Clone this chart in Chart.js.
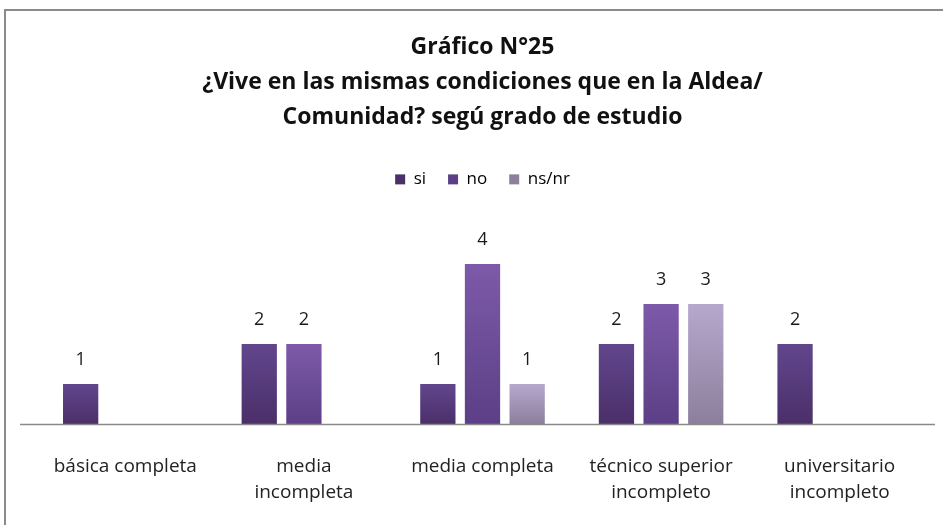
<!DOCTYPE html>
<html>
<head>
<meta charset="utf-8">
<script src="https://cdn.jsdelivr.net/npm/chart.js@4/dist/chart.umd.min.js"></script>
<style>
  html, body { margin: 0; padding: 0; background: #fff; }
  #wrap { position: relative; width: 943px; height: 525px; overflow: hidden; }
  #frame { position: absolute; left: 4px; top: 9px; width: 960px; height: 540px; border: 2px solid #8a8a8a; box-sizing: border-box; }
  canvas { position: absolute; left: 0; top: 0; }
</style>
</head>
<body>
<div id="wrap">
  <div id="frame"></div>
  <canvas class="my_chart" width="943" height="525"></canvas>
</div>
<script>
const categories = [
    'básica completa',
    ['media', 'incompleta'],
    'media completa',
    ['técnico superior', 'incompleto'],
    ['universitario', 'incompleto']
];
const siValues = [1, 2, 1, 2, 2];
const noValues = [null, 2, 4, 3, null];
const nsValues = [null, null, 1, 3, null];
const titleLines = ['Gráfico N°25', '¿Vive en las mismas condiciones que en la Aldea/', 'Comunidad? segú grado de estudio'];

// top / bottom colours for each series
const seriesColors = [
    ['#62468d', '#4a2f69'],
    ['#7d5aa9', '#5c3f86'],
    ['#b6a8cd', '#8c7f9c']
];

function barGradient(i) {
    return function(context) {
        const chart = context.chart;
        const y = chart.scales.y;
        if (!y || context.parsed == null || context.parsed.y == null) return seriesColors[i][0];
        const top = y.getPixelForValue(context.parsed.y);
        const bottom = y.getPixelForValue(0);
        if (!isFinite(top) || !isFinite(bottom) || top === bottom) return seriesColors[i][0];
        const g = chart.ctx.createLinearGradient(0, top, 0, bottom);
        g.addColorStop(0, seriesColors[i][0]);
        g.addColorStop(1, seriesColors[i][1]);
        return g;
    };
}

// numbers above the bars + longer axis line
const valueLabels = {
    id: 'valueLabels',
    afterDatasetsDraw(chart) {
        const ctx = chart.ctx;
        ctx.save();
        ctx.font = '18px "Open Sans"';
        ctx.fillStyle = '#1a1a1a';
        ctx.textAlign = 'center';
        ctx.textBaseline = 'middle';
        chart.data.datasets.forEach((ds, i) => {
            chart.getDatasetMeta(i).data.forEach((bar, j) => {
                if (ds.data[j] == null) return;
                ctx.fillText(ds.data[j], bar.x, bar.y - 24);
            });
        });
        const a = chart.chartArea;
        ctx.strokeStyle = '#8a8a8a';
        ctx.lineWidth = 1.5;
        ctx.beginPath();
        ctx.moveTo(a.left - 16, a.bottom + 0.5);
        ctx.lineTo(a.right + 6, a.bottom + 0.5);
        ctx.stroke();
        ctx.restore();
    }
};

document.addEventListener('DOMContentLoaded', () => {
    const ctx = document.querySelector('.my_chart').getContext('2d');
    const names = ['si', 'no', 'ns/nr'];
    const values = [siValues, noValues, nsValues];

    new Chart(ctx, {
        type: 'bar',
        data: {
            labels: categories,
            datasets: names.map((n, i) => ({
                label: n,
                data: values[i],
                backgroundColor: barGradient(i),
                borderWidth: 0,
                categoryPercentage: 0.75,
                barPercentage: 0.79
            }))
        },
        options: {
            responsive: false,
            animation: false,
            layout: { padding: { top: 20, left: 36, right: 14, bottom: 0 } },
            plugins: {
                title: {
                    display: true,
                    text: titleLines,
                    color: '#111',
                    font: { family: 'Open Sans', size: 23, weight: 'bold', lineHeight: 1.52 },
                    padding: { top: 10, bottom: 14 }
                },
                legend: {
                    display: true,
                    position: 'top',
                    labels: {
                        color: '#333',
                        font: { family: 'Open Sans', size: 17 },
                        boxWidth: 10,
                        boxHeight: 10,
                        padding: 22,
                        generateLabels(chart) {
                            return chart.data.datasets.map((ds, i) => ({
                                text: ds.label,
                                fillStyle: seriesColors[i][1],
                                strokeStyle: seriesColors[i][1],
                                lineWidth: 0,
                                datasetIndex: i
                            }));
                        }
                    }
                },
                tooltip: { enabled: false }
            },
            scales: {
                x: {
                    grid: { display: false, drawTicks: false },
                    border: { display: false },
                    ticks: {
                        color: '#222',
                        font: { family: 'Open Sans', size: 19, lineHeight: 1.37 },
                        padding: 30,
                        maxRotation: 0,
                        autoSkip: false
                    },
                    afterFit(scale) { scale.height = 101; }
                },
                y: {
                    display: false,
                    min: 0,
                    max: 5.65
                }
            }
        },
        plugins: [valueLabels]
    });
});
</script>
</body>
</html>
